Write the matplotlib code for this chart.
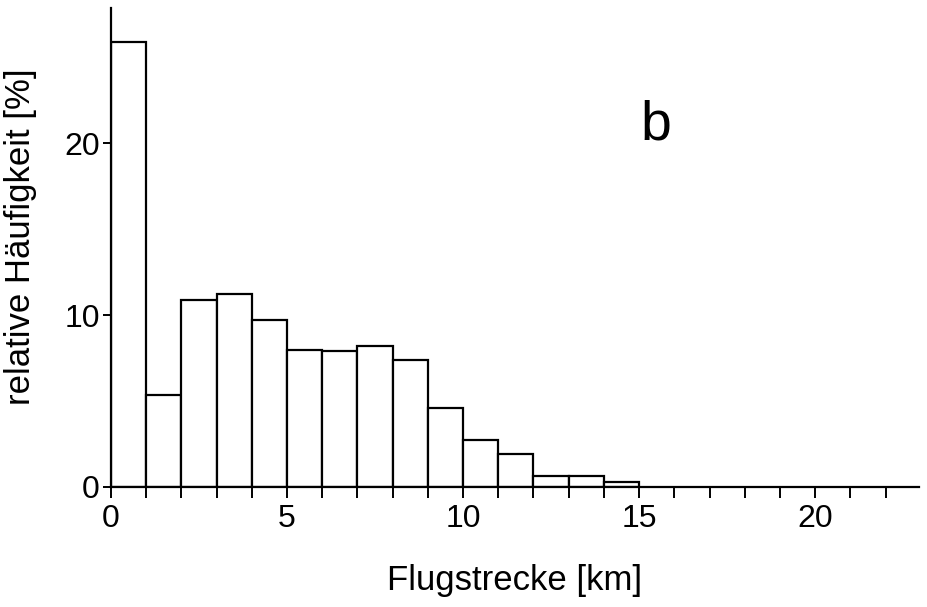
import matplotlib.pyplot as plt
import numpy as np
from matplotlib.ticker import MultipleLocator

plt.rcParams["font.family"] = ["Liberation Sans", "DejaVu Sans"]

bin_edges = np.arange(0, 16)
frequency = [25.9, 5.35, 10.87, 11.24, 9.71, 7.97, 7.93, 8.22, 7.40,
             4.57, 2.71, 1.90, 0.64, 0.64, 0.29]

fig = plt.figure(figsize=(9.27, 6.07), dpi=100)
ax = fig.add_axes([111 / 927, 1 - 487 / 607, 808 / 927, 479 / 607])

ax.bar(bin_edges[:-1], frequency, width=1.0, align="edge",
       facecolor="white", edgecolor="black", linewidth=1.6)

ax.set_xlim(0, 22.95)
ax.set_ylim(0, 27.85)
for side in ["top", "right"]:
    ax.spines[side].set_visible(False)
for side in ["left", "bottom"]:
    ax.spines[side].set_linewidth(1.6)

ax.xaxis.set_major_locator(MultipleLocator(5))
ax.xaxis.set_minor_locator(MultipleLocator(1))
ax.yaxis.set_major_locator(MultipleLocator(10))
ax.tick_params(axis="x", which="both", direction="out", length=8, width=1.4,
               labelsize=23, pad=4)
ax.tick_params(axis="y", which="major", direction="out", length=6, width=1.4,
               labelsize=23, pad=2)

ax.set_xlabel("Flugstrecke [km]", fontsize=25, labelpad=22)
ax.set_ylabel("relative Häufigkeit [%]", fontsize=25, va="center")
ax.yaxis.set_label_coords(-0.112, 0.522)

ax.text(0.674, 0.755, "b", transform=ax.transAxes, fontsize=40,
        ha="center", va="center")

fig.savefig("out.png", dpi=100)
